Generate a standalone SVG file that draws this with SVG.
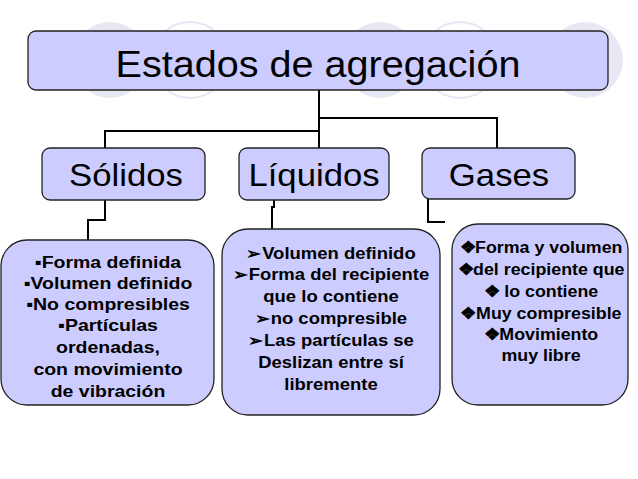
<svg xmlns="http://www.w3.org/2000/svg" width="638" height="479" viewBox="0 0 638 479">
<style>
.bx{fill:#ccccff;stroke:#222;stroke-width:1.3}
.t{font-family:"Liberation Sans",Arial,sans-serif;text-anchor:middle;fill:#000}
.b{font-size:16.5px;font-weight:bold}
.c{fill:none;stroke:#000;stroke-width:2}
</style>
<rect width="638" height="479" fill="#fff"/>
<g opacity="0.6">
<circle cx="110" cy="60" r="38" fill="#d8d8ee"/>
<circle cx="190" cy="60" r="38" fill="none" stroke="#d8d8ee" stroke-width="2"/>
<circle cx="380" cy="60" r="38" fill="#d8d8ee"/>
<circle cx="460" cy="60" r="38" fill="none" stroke="#d8d8ee" stroke-width="2"/>
<circle cx="585" cy="60" r="38" fill="#d8d8ee"/>
</g>
<g id="connectors" class="c">
<polyline points="319,90 319,118 497,118 497,148"/>
<polyline points="319,118 319,131 105,131 105,148"/>
<line x1="319" y1="131" x2="319" y2="148"/>
<polyline points="105,200 105,220 88,220 88,240"/>
<polyline points="274,200 274,207 272,207 272,230"/>
<polyline points="428,199 428,222 445,222"/>
</g>
<g id="root"><rect class="bx" x="28" y="31" width="580" height="59" rx="8"/><text class="t" transform="translate(318,0) scale(1.07,1)" x="0" y="77" font-size="37">Estados de agregación</text></g>
<g id="solidos"><rect class="bx" x="42" y="148" width="163" height="52" rx="8"/><text class="t" transform="translate(126,0) scale(1.12,1)" x="0" y="186" font-size="31">Sólidos</text></g>
<g id="liquidos"><rect class="bx" x="239" y="148" width="150" height="52" rx="8"/><text class="t" transform="translate(314,0) scale(1.12,1)" x="0" y="186" font-size="31">Líquidos</text></g>
<g id="gases"><rect class="bx" x="422" y="148" width="153" height="51" rx="8"/><text class="t" transform="translate(499,0) scale(1.12,1)" x="0" y="186" font-size="31">Gases</text></g>
<g id="solidos-det"><rect class="bx" x="1" y="240" width="213" height="165" rx="26"/>
<text class="t b" transform="translate(108,0) scale(1.18,1)"><tspan x="0" y="268">▪Forma definida</tspan><tspan x="0" y="289">▪Volumen definido</tspan><tspan x="0" y="310">▪No compresibles</tspan><tspan x="0" y="331">▪Partículas</tspan><tspan x="0" y="353">ordenadas,</tspan><tspan x="0" y="375">con  movimiento</tspan><tspan x="0" y="397">de  vibración</tspan></text></g>
<g id="liquidos-det"><rect class="bx" x="222" y="229" width="218" height="186" rx="26"/>
<text class="t b" transform="translate(331,0) scale(1.12,1)"><tspan x="0" y="259">➢Volumen definido</tspan><tspan x="0" y="280">➢Forma del recipiente</tspan><tspan x="0" y="302">que lo contiene</tspan><tspan x="0" y="324">➢no compresible</tspan><tspan x="0" y="346">➢Las partículas se</tspan><tspan x="0" y="368">Deslizan entre sí</tspan><tspan x="0" y="390">libremente</tspan></text></g>
<g id="gases-det"><rect class="bx" x="452" y="224" width="176" height="181" rx="26"/>
<text class="t b" transform="translate(541,0) scale(1.08,1)"><tspan x="0" y="253">❖Forma y volumen</tspan><tspan x="0" y="275">❖del recipiente que</tspan><tspan x="0" y="297">❖ lo contiene</tspan><tspan x="0" y="319">❖Muy compresible</tspan><tspan x="0" y="340">❖Movimiento</tspan><tspan x="0" y="361">muy libre</tspan></text></g>
</svg>
